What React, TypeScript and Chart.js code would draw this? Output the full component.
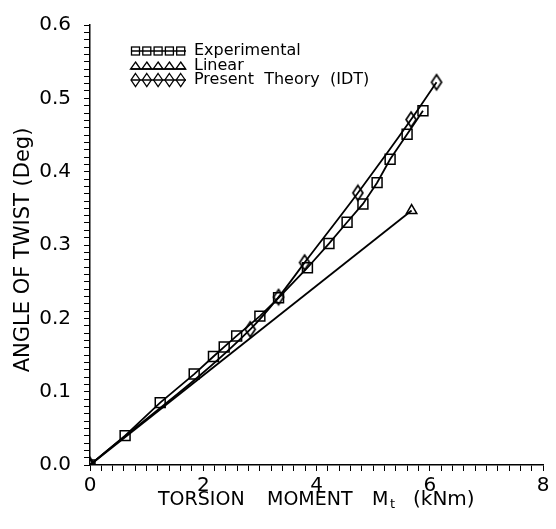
import React, { useEffect, useRef } from "react";
import { Chart, registerables } from "chart.js";

Chart.register(...registerables);

// Experimental (squares)
const expX = [0, 0.62, 1.24, 1.84, 2.18, 2.37, 2.59, 3.0, 3.33, 3.84, 4.22, 4.54, 4.82, 5.07, 5.3, 5.6, 5.88];
const expY = [0, 0.04, 0.085, 0.124, 0.148, 0.161, 0.176, 0.203, 0.228, 0.269, 0.302, 0.331, 0.356, 0.385, 0.417, 0.451, 0.483];
// Linear (triangles)
const linX = [0, 5.68];
const linY = [0, 0.347];
// Present Theory (IDT) (diamonds)
const idtX = [0, 2.83, 3.33, 3.79, 4.73, 5.67, 6.12];
const idtY = [0, 0.185, 0.229, 0.276, 0.371, 0.471, 0.522];

const legendLabels = ["Experimental", "Linear", "Present  Theory  (IDT)"];
const xTickLabels = ["0", "2", "4", "6", "8"];
const yTickLabels = ["0.0", "0.1", "0.2", "0.3", "0.4", "0.5", "0.6"];
const xMinorCount = 40; // minor steps of 0.2 over 0..8
const yMinorCount = 60; // minor steps of 0.01 over 0..0.6

const FONT = "'DejaVu Sans', sans-serif";

function makeDiamond(w: number, h: number, lw: number) {
  const c = document.createElement("canvas");
  c.width = w + 4;
  c.height = h + 4;
  const ctx = c.getContext("2d")!;
  ctx.strokeStyle = "#000";
  ctx.lineWidth = lw;
  ctx.beginPath();
  const cx = c.width / 2, cy = c.height / 2;
  ctx.moveTo(cx, cy - h / 2);
  ctx.lineTo(cx + w / 2, cy);
  ctx.lineTo(cx, cy + h / 2);
  ctx.lineTo(cx - w / 2, cy);
  ctx.closePath();
  ctx.stroke();
  return c;
}

function drawSquare(ctx: CanvasRenderingContext2D, x: number, y: number, s: number) {
  ctx.strokeRect(x - s / 2, y - s / 2, s, s);
}
function drawTriangle(ctx: CanvasRenderingContext2D, x: number, y: number, w: number, h: number) {
  ctx.beginPath();
  ctx.moveTo(x, y - h / 2);
  ctx.lineTo(x + w / 2, y + h / 2);
  ctx.lineTo(x - w / 2, y + h / 2);
  ctx.closePath();
  ctx.stroke();
}
function drawDiamond(ctx: CanvasRenderingContext2D, x: number, y: number, w: number, h: number) {
  ctx.beginPath();
  ctx.moveTo(x, y - h / 2);
  ctx.lineTo(x + w / 2, y);
  ctx.lineTo(x, y + h / 2);
  ctx.lineTo(x - w / 2, y);
  ctx.closePath();
  ctx.stroke();
}

const decorPlugin = {
  id: "decor",
  afterDraw(chart: any) {
    const ctx: CanvasRenderingContext2D = chart.ctx;
    const area = chart.chartArea;
    ctx.save();
    ctx.fillStyle = "#000";
    ctx.strokeStyle = "#000";

    // Legend
    const lx0 = area.left + 41;
    const ly0 = area.top + 26;
    const rowGap = 14.5;
    legendLabels.forEach((label, i) => {
      const y = ly0 + i * rowGap;
      ctx.lineWidth = 1.3;
      const xs = [0, 1, 2, 3, 4].map((k) => lx0 + 4.5 + k * 11.3);
      if (i === 0) {
        ctx.beginPath();
        ctx.moveTo(lx0, y);
        ctx.lineTo(lx0 + 55, y);
        ctx.stroke();
        xs.forEach((x) => drawSquare(ctx, x, y, 8));
      } else if (i === 1) {
        ctx.beginPath();
        ctx.moveTo(lx0, y + 3.5);
        ctx.lineTo(lx0 + 55, y + 3.5);
        ctx.stroke();
        xs.forEach((x) => drawTriangle(ctx, x, y, 10, 7));
      } else {
        ctx.beginPath();
        ctx.moveTo(lx0, y);
        ctx.lineTo(lx0 + 55, y);
        ctx.stroke();
        xs.forEach((x) => drawDiamond(ctx, x, y, 9, 13));
      }
      ctx.font = `16px ${FONT}`;
      ctx.textAlign = "left";
      ctx.textBaseline = "middle";
      ctx.fillText(label, lx0 + 63, y);
    });

    // Y axis title
    ctx.save();
    ctx.translate(24, (area.top + area.bottom) / 2 + 5);
    ctx.rotate(-Math.PI / 2);
    ctx.font = `21px ${FONT}`;
    ctx.textAlign = "center";
    ctx.textBaseline = "middle";
    ctx.fillText("ANGLE OF TWIST (Deg)", 0, 0);
    ctx.restore();

    // X axis title with subscript
    const cx = (area.left + area.right) / 2;
    const base = area.bottom + 40;
    ctx.textAlign = "left";
    ctx.textBaseline = "alphabetic";
    ctx.font = `19px ${FONT}`;
    ctx.fillText("TORSION", cx - 158.5, base);
    ctx.fillText("MOMENT", cx - 49.5, base);
    ctx.fillText("M", cx + 55.5, base);
    ctx.font = `13px ${FONT}`;
    ctx.fillText("t", cx + 73.5, base + 3);
    ctx.font = `20px ${FONT}`;
    ctx.fillText("(kNm)", cx + 96.5, base);
    ctx.restore();
  },
};

export default function App() {
  const ref = useRef<HTMLCanvasElement>(null);
  useEffect(() => {
    document.body.style.margin = "0";
    const diamond = makeDiamond(10, 15, 1.7);
    const toPts = (xs: number[], ys: number[]) => xs.map((x, i) => ({ x, y: ys[i] }));
    const chart = new Chart(ref.current!, {
      type: "scatter",
      data: {
        datasets: [
          {
            label: legendLabels[0],
            data: toPts(expX, expY),
            showLine: true,
            borderColor: "#000",
            backgroundColor: "rgba(0,0,0,0)",
            borderWidth: 1.8,
            pointStyle: "rect",
            pointRadius: 7,
            pointBorderWidth: 1.5,
            pointBorderColor: "#000",
            tension: 0,
          },
          {
            label: legendLabels[1],
            data: toPts(linX, linY),
            showLine: true,
            borderColor: "#000",
            backgroundColor: "rgba(0,0,0,0)",
            borderWidth: 1.8,
            pointStyle: "triangle",
            pointRadius: 6,
            pointBorderWidth: 1.5,
            pointBorderColor: "#000",
          },
          {
            label: legendLabels[2],
            data: toPts(idtX, idtY),
            showLine: true,
            borderColor: "#000",
            backgroundColor: "rgba(0,0,0,0)",
            borderWidth: 1.8,
            pointStyle: diamond as any,
            pointRadius: 7,
            cubicInterpolationMode: "monotone",
          },
        ],
      },
      options: {
        animation: false,
        responsive: false,
        layout: { padding: { top: 14, right: 13, left: 0, bottom: 0 } },
        plugins: {
          legend: { display: false },
          tooltip: { enabled: false },
        },
        scales: {
          x: {
            type: "linear",
            min: 0,
            max: 8,
            afterFit: (s: any) => {
              s.height = 64;
            },
            afterBuildTicks: (s: any) => {
              s.ticks = Array.from({ length: xMinorCount + 1 }, (_, i) => ({ value: (i * 8) / xMinorCount }));
            },
            ticks: {
              autoSkip: false,
              maxRotation: 0,
              color: "#000",
              padding: 3,
              font: { family: FONT, size: 20 },
              callback: (_v: any, i: number) => (i % 10 === 0 ? xTickLabels[i / 10] : ""),
            },
            grid: { drawOnChartArea: false, drawTicks: true, tickLength: 6, color: "#000", lineWidth: 1 },
            border: { display: true, color: "#000", width: 1.5 },
          },
          y: {
            type: "linear",
            min: 0,
            max: 0.6,
            afterFit: (s: any) => {
              s.width = 90;
            },
            afterBuildTicks: (s: any) => {
              s.ticks = Array.from({ length: yMinorCount + 1 }, (_, i) => ({ value: (i * 0.6) / yMinorCount }));
            },
            ticks: {
              autoSkip: false,
              color: "#000",
              padding: 13,
              font: { family: FONT, size: 20 },
              callback: (_v: any, i: number) => (i % 10 === 0 ? yTickLabels[i / 10] : ""),
            },
            grid: { drawOnChartArea: false, drawTicks: true, tickLength: 6, color: "#000", lineWidth: 1 },
            border: { display: true, color: "#000", width: 1.5 },
          },
        },
      },
      plugins: [decorPlugin],
    });
    return () => chart.destroy();
  }, []);
  return (
    <div style={{ position: "absolute", left: 0, top: 0, width: 556, height: 529 }}>
      <canvas ref={ref} width={556} height={529} style={{ display: "block" }} />
    </div>
  );
}
